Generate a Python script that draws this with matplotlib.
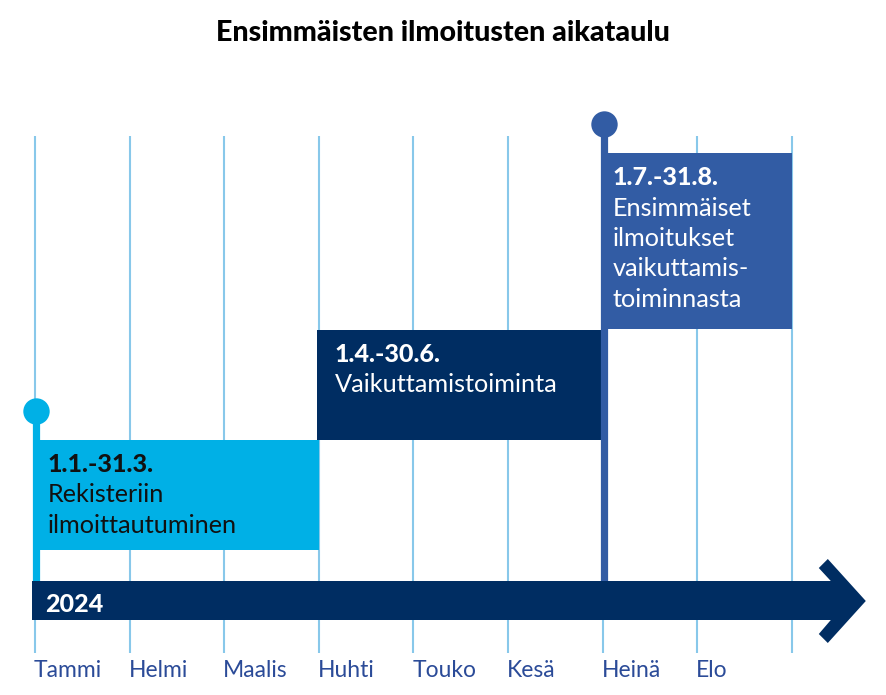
import matplotlib
matplotlib.use("Agg")
import matplotlib.pyplot as plt
from matplotlib.patches import Rectangle, Polygon

# ---- data ----
months = ["Tammi", "Helmi", "Maalis", "Huhti", "Touko", "Kesä", "Heinä", "Elo", ""]
year_label = "2024"
title = "Ensimmäisten ilmoitusten aikataulu"
period_start = [0, 3, 6]          # month index where each period starts
period_end = [3, 6, 8]            # month index where each period ends
period_dates = ["1.1.-31.3.", "1.4.-30.6.", "1.7.-31.8."]
period_texts = [["Rekisteriin", "ilmoittautuminen"],
                ["Vaikuttamistoiminta"],
                ["Ensimmäiset", "ilmoitukset", "vaikuttamis-", "toiminnasta"]]
period_milestone = [True, False, True]

# ---- style ----
CYAN = "#00b0e6"
NAVY = "#002d62"
BLUE = "#325ca4"
GRID = "#88c8ea"
LABEL = "#2b4b98"
box_colors = [CYAN, NAVY, BLUE]
text_colors = ["#111111", "white", "white"]
box_y = [(440, 550), (330, 440), (153, 329)]   # top, bottom (pixel-like layout units)
text_dx = [13, 16, 10]
marker_y = [411, None, 124]
FONT = "Lato"

W, H = 886, 695
X0, DX = 35, 94.6  # layout: pixel of month 0 and pixels per month

fig = plt.figure(figsize=(W / 100, H / 100), dpi=100)
ax = fig.add_axes([0, 0, 1, 1])
ax.set_xlim(-X0 / DX, (W - X0) / DX)
ax.set_ylim(H, 0)
ax.axis("off")

def px(p):
    return p / DX  # pixel width -> month units

# grid lines
for i in range(len(months)):
    ax.plot([i, i], [136, 653], color=GRID, lw=1.5, solid_capstyle="butt", zorder=1)
    if months[i]:
        ax.text(i - px(1), 677, months[i], color=LABEL, fontsize=16.5, family=FONT,
                ha="left", va="baseline", zorder=5)

# boxes
for k in range(len(period_start)):
    s, e = period_start[k], period_end[k]
    top, bot = box_y[k]
    ax.add_patch(Rectangle((s - px(2), top), e - s + px(2), bot - top,
                           facecolor=box_colors[k], edgecolor="none", zorder=3))
    tx = s + px(text_dx[k])
    base = top + 32
    ax.text(tx, base, period_dates[k], color=text_colors[k], fontsize=18, family=FONT,
            fontweight="black", ha="left", va="baseline", zorder=6)
    for j, line in enumerate(period_texts[k]):
        ax.text(tx, base + 30.5 * (j + 1), line, color=text_colors[k], fontsize=18.2,
                family=FONT, ha="left", va="baseline", zorder=6)
    if period_milestone[k]:
        my = marker_y[k]
        ax.plot([s + px(1.5), s + px(1.5)], [my, 581], color=box_colors[k], lw=5.2,
                solid_capstyle="butt", zorder=4)
        ax.plot([s + px(1.5)], [my], marker="o", markersize=19, color=box_colors[k],
                markeredgewidth=0, zorder=4)

# timeline arrow (bar + chevron head as one outline)
end = len(months) - 1
arrow = [(-px(3), 581), (end + px(39), 581), (end + px(27), 568), (end + px(36), 559),
         (end + px(74), 601), (end + px(36), 643), (end + px(27), 634),
         (end + px(39), 620), (-px(3), 620)]
ax.add_patch(Polygon(arrow, closed=True, facecolor=NAVY, edgecolor="none", zorder=4))
ax.text(px(10), 612, year_label, color="white", fontsize=18, family=FONT,
        fontweight="black", ha="left", va="baseline", zorder=6)

# title
ax.text((W / 2 - X0) / DX, 41, title, color="black", fontsize=20.6,
        family=FONT, fontweight="black", ha="center", va="baseline")

fig.savefig("out.png", dpi=100)
